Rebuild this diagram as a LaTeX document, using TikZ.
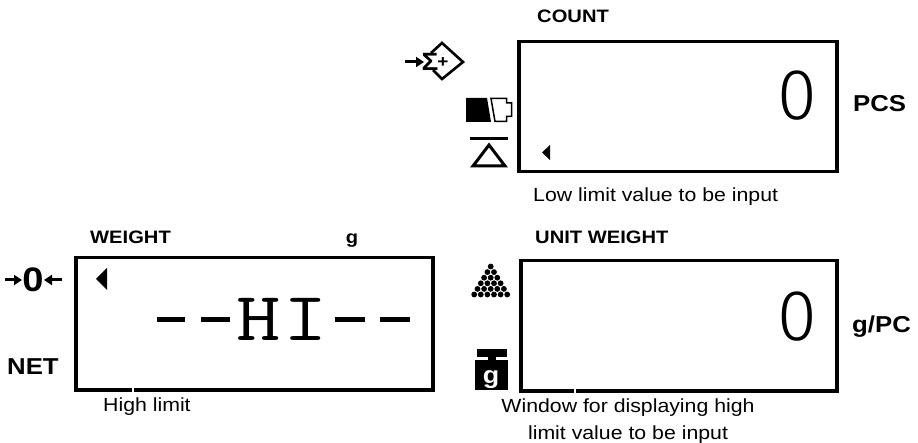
\documentclass[tikz,border=0pt]{standalone}
\usepackage{fontspec}
\setmainfont{Liberation Sans}[FakeStretch=1.12]
\newfontfamily\thinfont{Fira Sans Light}
\usepackage{graphicx}
\usetikzlibrary{arrows.meta}
\begin{document}
\begin{tikzpicture}[x=1pt,y=-1pt,
  panel/.style={draw, line width=3.5pt, inner sep=0pt, anchor=north west},
  blbl/.style={inner sep=0pt, font=\bfseries\fontsize{18}{20}\selectfont},
  bigunit/.style={inner sep=0pt, font=\bfseries\fontsize{23}{26}\selectfont},
  note/.style={inner sep=0pt, font=\fontsize{19}{27}\selectfont},
  digit/.style={inner sep=0pt, anchor=east, font=\thinfont\fontsize{72}{72}\selectfont},
  icon/.style={line width=3pt, line join=miter},
  tip/.style={-{Triangle[length=8pt,width=10pt]}},
  gap/.style={draw=white, line width=1.2pt}]
\useasboundingbox (0,0) rectangle (918,443);

% display panels
\node[panel, minimum width=318pt, minimum height=130pt] (count) at (517,40) {};
\node[panel, minimum width=357pt, minimum height=132pt] (weight) at (74,256) {};
\node[panel, minimum width=316pt, minimum height=130pt] (unit) at (519,259) {};

% headings
\node[blbl, anchor=base west] (countlbl) at (537,22.5) {COUNT};
\node[blbl, anchor=base west] (weightlbl) at (90,243.5) {WEIGHT};
\node[blbl, anchor=base] (glbl) at (352,243.5) {g};
\node[blbl, anchor=base west] (unitlbl) at (535,243.5) {UNIT WEIGHT};
\node[bigunit, anchor=base west] (pcs) at (853,112) {PCS};
\node[bigunit, anchor=base west] (gpc) at (852,333) {g/PC};
\node[bigunit, anchor=base west] (net) at (7,374) {NET};

% notes
\node[note, anchor=base west] (low) at (533,202) {Low limit value to be input};
\node[note, anchor=base west] (high) at (103,411) {High limit};
\node[note, anchor=north, align=center] (win) at (628,399) {Window for displaying high\\limit value to be input};

% leader gaps in the bottom borders
\coordinate (hlead) at (133,388);
\coordinate (wlead) at (575,389);
\draw[gap] ([yshift=-5pt]hlead) -- ([yshift=5pt]hlead);
\draw[gap] ([yshift=-5pt]wlead) -- ([yshift=5pt]wlead);

% digits
\node[digit] (c0) at (817,96) {0};
\node[digit] (u0) at (817,317) {0};

% --HI--
\foreach \a/\b in {157/185, 201/230, 335/365, 380/410}
  \draw[line width=5pt] (\a,320) -- (\b,320);
\node[inner sep=0pt, font=\ttfamily\fontsize{69}{69}\selectfont] (hi) at (282,319) {\scalebox{1.25}[1]{H\kern1.8pt I}};

% pointer triangles
\fill (550,145) -- (550,160) -- (542,152.5) -- cycle;
\fill (107,268) -- (107,290) -- (96,279) -- cycle;

% zero icon
\draw[line width=3pt, tip] (5,280) -- (22,280);
\node[inner sep=0pt, font=\bfseries\fontsize{34}{34}\selectfont] (zero) at (33,280) {0};
\draw[line width=3pt, tip] (62,280) -- (44,280);

% sigma icon
\draw[line width=3pt, tip] (405,62) -- (424,62);
\node[inner sep=0pt, font=\bfseries\fontsize{25}{25}\selectfont] (sig) at (430,62) {Σ};
\draw[line width=2.6pt, line join=miter] (431,53) -- (442,43) -- (463,62) -- (442,79) -- (433,70);
\node[inner sep=0pt, font=\bfseries\fontsize{17}{17}\selectfont] (plus) at (443,63) {+};

% tare icon
\fill (466,98) -- (487,98) -- (491,122) -- (466,122) -- cycle;
\draw[line width=1.5pt, line join=miter] (491,98.5) -- (506.5,98.5) -- (506.5,103) -- (511.5,103) -- (511.5,116.5) -- (506.5,116.5) -- (506.5,121.5) -- (495,121.5) -- cycle;

% scale icon
\draw[icon] (470,138.5) -- (508,138.5);
\draw[icon] (489,145) -- (473,166) -- (505,166) -- cycle;

% pyramid of pieces
\foreach \r in {0,...,5}
  \foreach \k in {0,...,\r}
    \fill ({490.7+(\k-\r/2)*6.6},{266.5+\r*5.6}) circle[radius=2.9pt];

% weight icon
\fill (476.5,349) rectangle (507,357);
\fill (488,356) rectangle (496,361);
\fill (475,360) rectangle (507.5,390);
\node[inner sep=0pt, text=white, font=\bfseries\fontsize{24}{24}\selectfont, anchor=base] (gw) at (491,383) {g};
\end{tikzpicture}
\end{document}
